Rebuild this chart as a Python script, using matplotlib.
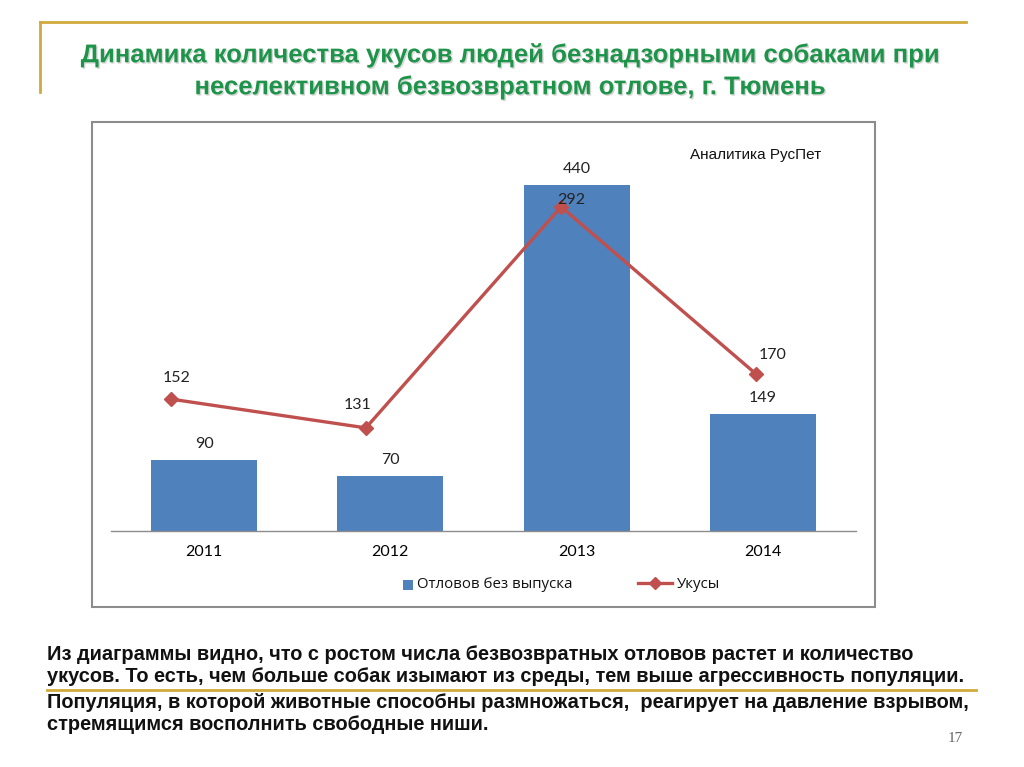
import matplotlib
matplotlib.use("Agg")
import matplotlib.pyplot as plt
from matplotlib.patches import Rectangle
from matplotlib.lines import Line2D
import matplotlib.patheffects as pe

years = ["2011", "2012", "2013", "2014"]
captures = [90, 70, 440, 149]
bites = [152, 131, 292, 170]
series_names = ["Отловов без выпуска", "Укусы"]
title_lines = ["Динамика количества укусов людей безнадзорными собаками при",
               "неселективном безвозвратном отлове, г. Тюмень"]
source_note = "Аналитика РусПет"
body_lines = [
    "Из диаграммы видно, что с ростом числа безвозвратных отловов растет и количество",
    "укусов. То есть, чем больше собак изымают из среды, тем выше агрессивность популяции.",
    "Популяция, в которой животные способны размножаться,  реагирует на давление взрывом,",
    "стремящимся восполнить свободные ниши.",
]
page_no = "17"

W, H = 1024, 767
fig = plt.figure(figsize=(W / 100, H / 100), dpi=100)
fig.patch.set_facecolor("white")

def fx(x):
    return x / W

def fy(y):
    return 1 - y / H

gold = "#D2AA3C"
fig.add_artist(Line2D([fx(40), fx(966)], [fy(22), fy(22)], color=gold, lw=2))
fig.add_artist(Line2D([fx(40), fx(40)], [fy(22), fy(92)], color=gold, lw=2))

green = "#1E944A"
shadow = [pe.withSimplePatchShadow(offset=(1, -1), shadow_rgbFace="#888888", alpha=0.35)]
for t, yy in zip(title_lines, [55, 87]):
    fig.text(fx(510), fy(yy), t, ha="center", va="center", color=green,
             fontsize=18.5, fontweight="bold", family=["Liberation Sans", "DejaVu Sans"],
             path_effects=shadow)

fig.add_artist(Rectangle((fx(92), fy(607)), fx(875) - fx(92), fy(122) - fy(607),
                         transform=fig.transFigure, fill=False, edgecolor="#8C8C8C", lw=1.5))

rect = [fx(111), fy(531), fx(856) - fx(111), fy(138) - fy(531)]
ax = fig.add_axes(rect)
x = list(range(len(years)))
bar_color = "#4F81BD"
line_color = "#C0504D"
ax.bar(x, captures, width=0.57, color=bar_color, zorder=2)
ax.set_xlim(-0.5, 3.5)
ax.set_ylim(0, 500)
for s in ["top", "left", "right"]:
    ax.spines[s].set_visible(False)
ax.spines["bottom"].set_color("#8C8C8C")
ax.spines["bottom"].set_linewidth(1.0)
ax.set_yticks([])
ax.set_xticks(x)
ax.set_xticklabels(years, family=["Lato", "DejaVu Sans"], fontsize=11.5)
ax.tick_params(axis="x", length=0, pad=10)
ax.patch.set_alpha(0)
num_font = dict(family=["Lato", "DejaVu Sans"], fontsize=11.5, color="#222222")
for xi, v in zip(x, captures):
    ax.annotate(str(v), (xi, v), xytext=(0, 16), textcoords="offset pixels",
                ha="center", va="center", **num_font)

ax2 = fig.add_axes(rect)
ax2.set_xlim(-0.305, 3.51)
ax2.set_ylim(55.9, 342.1)
ax2.axis("off")
ax2.patch.set_alpha(0)
ax2.plot(x, bites, color=line_color, lw=2.4, marker="D", markersize=7,
         markerfacecolor=line_color, markeredgecolor=line_color, zorder=3)
offsets = [(6, 21), (-8, 23), (10, 7), (16, 19)]
for xi, v, off in zip(x, bites, offsets):
    ax2.annotate(str(v), (xi, v), xytext=off, textcoords="offset pixels",
                 ha="center", va="center", **num_font)

# legend drawn manually
leg_font = dict(family=["Open Sans", "DejaVu Sans"], fontsize=10.8, color="#111111")
fig.add_artist(Rectangle((fx(403), fy(590)), fx(10), 10 / H, transform=fig.transFigure,
                         facecolor=bar_color, edgecolor="none"))
fig.text(fx(417), fy(585), series_names[0], ha="left", va="center", **leg_font)
fig.add_artist(Line2D([fx(638), fx(672)], [fy(583), fy(583)], color=line_color, lw=2.4))
fig.add_artist(Line2D([fx(655)], [fy(583)], color=line_color, marker="D", markersize=6.5,
                      markerfacecolor=line_color, markeredgecolor=line_color))
fig.text(fx(677), fy(584), series_names[1], ha="left", va="center", **leg_font)

fig.text(fx(690), fy(155), source_note, ha="left", va="center", fontsize=11,
         family=["Liberation Sans", "DejaVu Sans"], color="#111111")

for t, yy in zip(body_lines, [655, 677, 702, 725]):
    fig.text(fx(47), fy(yy), t, ha="left", va="center", fontsize=14.4, fontweight="bold",
             family=["Liberation Sans", "DejaVu Sans"], color="#111111")
fig.add_artist(Line2D([fx(47), fx(976)], [fy(690), fy(690)], color=gold, lw=2))

fig.text(fx(955), fy(738), page_no, ha="center", va="center", fontsize=11,
         family=["Liberation Serif", "DejaVu Serif"], color="#666666")

fig.savefig("out.png", dpi=100, facecolor="white")
